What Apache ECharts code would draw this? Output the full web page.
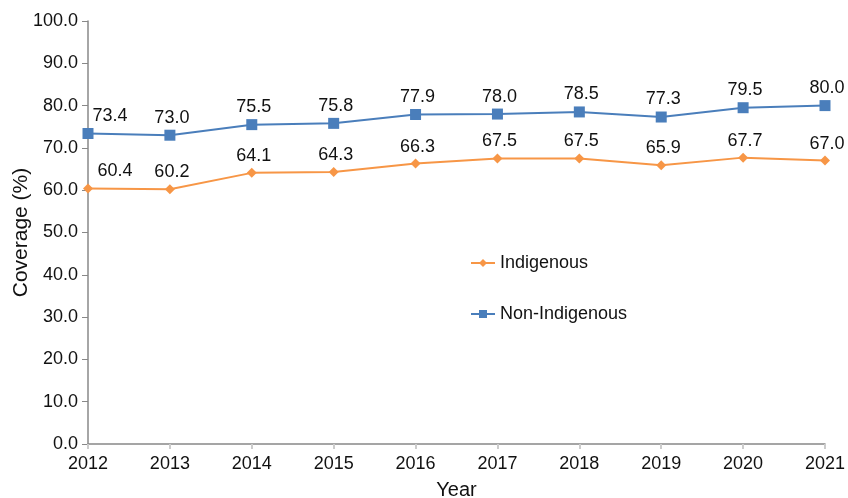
<!DOCTYPE html>
<html><head><meta charset="utf-8">
<script src="https://cdn.jsdelivr.net/npm/echarts@6/dist/echarts.min.js"></script>
<style>html,body{margin:0;padding:0;background:#fff}#c{width:848px;height:498px}</style>
</head><body><div id="c"></div>
<script>
const years = ['2012','2013','2014','2015','2016','2017','2018','2019','2020','2021'];
const indigenous = [60.4,60.2,64.1,64.3,66.3,67.5,67.5,65.9,67.7,67.0];
const nonIndigenous = [73.4,73.0,75.5,75.8,77.9,78.0,78.5,77.3,79.5,80.0];
const yTicks = [0,10,20,30,40,50,60,70,80,90,100];

const font = 'Liberation Sans, Arial, Helvetica, sans-serif';
function mk(arr, firstOff){
  return arr.map((v,i)=>({value:v, label:{offset: i===0 ? [firstOff,0] : [2,0]}}));
}
const chart = echarts.init(document.getElementById('c'));
chart.setOption({
  animation:false,
  grid:{left:88,right:23,top:21,bottom:54,containLabel:false,outerBoundsMode:'none'},
  legend:{
    orient:'vertical', left:465, top:249, itemGap:33, itemWidth:24, itemHeight:10,
    textStyle:{fontFamily:font,fontSize:18,color:'#111'},
    data:['Indigenous','Non-Indigenous']
  },
  xAxis:{
    type:'category', data:years, boundaryGap:false,
    name:'Year', nameLocation:'middle', nameGap:36, nameMoveOverlap:false,
    nameTextStyle:{fontFamily:font,fontSize:20,color:'#111'},
    axisLine:{lineStyle:{color:'#888',width:1.5}},
    axisTick:{show:true,length:5,lineStyle:{color:'#ccc',width:2}},
    axisLabel:{fontFamily:font,fontSize:18,color:'#111',margin:11}
  },
  yAxis:{
    type:'value', min:0, max:100, interval:10,
    name:'Coverage (%)', nameLocation:'middle', nameGap:56, nameMoveOverlap:false,
    nameTextStyle:{fontFamily:font,fontSize:21,color:'#111'},
    axisLine:{show:true,lineStyle:{color:'#888',width:1.5}},
    axisTick:{show:true,length:6,lineStyle:{color:'#888'}},
    splitLine:{show:false},
    axisLabel:{fontFamily:font,fontSize:18,color:'#111',margin:10,
      formatter:v=>yTicks.includes(v)?v.toFixed(1):''}
  },
  series:[
    {name:'Indigenous',type:'line',data:mk(indigenous,27),
      color:'#f79646',symbol:'diamond',symbolSize:10,
      lineStyle:{width:2,color:'#f79646'},itemStyle:{color:'#f79646'},
      label:{show:true,position:'top',distance:3,fontFamily:font,fontSize:18,color:'#111',formatter:p=>p.value.toFixed(1)}},
    {name:'Non-Indigenous',type:'line',data:mk(nonIndigenous,22),
      color:'#4a7ebb',symbol:'rect',symbolSize:11,
      lineStyle:{width:2,color:'#4a7ebb'},itemStyle:{color:'#4a7ebb'},
      label:{show:true,position:'top',distance:3,fontFamily:font,fontSize:18,color:'#111',formatter:p=>p.value.toFixed(1)}}
  ]
});
</script></body></html>
